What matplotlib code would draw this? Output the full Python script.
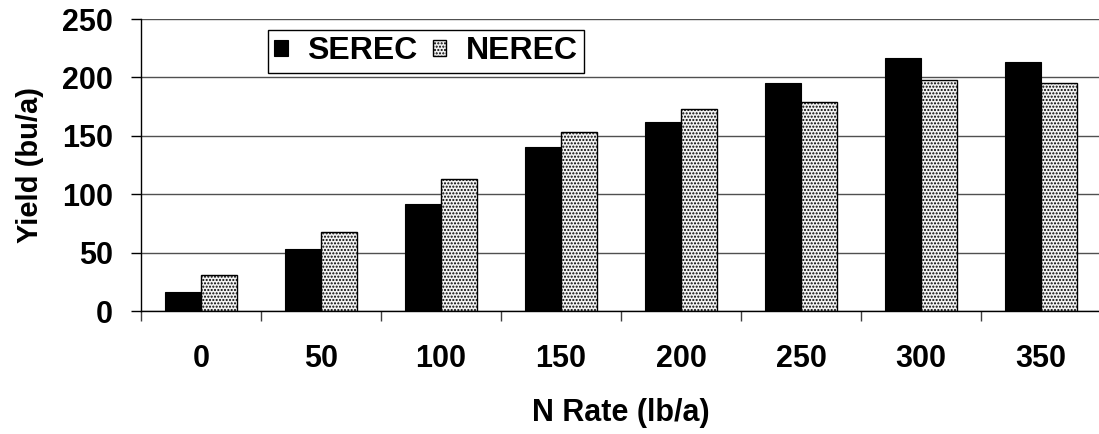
import numpy as np
import matplotlib.pyplot as plt

plt.rcParams['font.family'] = ['Liberation Sans', 'DejaVu Sans']
plt.rcParams['font.weight'] = 'bold'
plt.rcParams['hatch.linewidth'] = 1.0

# données
n_rate = ['0', '50', '100', '150', '200', '250', '300', '350']
serec = [16, 53, 92, 140, 162, 195, 217, 213]
nerec = [31, 68, 113, 153, 173, 179, 198, 195]

x = np.arange(len(n_rate))
w = 0.3

fig = plt.figure(figsize=(10.99, 4.34), dpi=100)
ax = fig.add_axes([0.1283, 0.2834, 0.8735, 0.6728])

ax.set_axisbelow(True)
ax.yaxis.grid(True, color='#505050', linewidth=1.0)

ax.bar(x - w / 2, serec, w, color='black', edgecolor='black', linewidth=0.8, label='SEREC')
ax.bar(x + w / 2, nerec, w, color='#f2f2f2', edgecolor='black', hatch='.....',
       linewidth=1.0, label='NEREC')

ax.set_xlim(-0.5, len(n_rate) - 0.5)
ax.set_ylim(0, 250)
ax.set_yticks(np.arange(0, 251, 50))
ax.set_xticks(x)
ax.set_xticklabels(n_rate)
ax.set_xticks(np.arange(-0.5, len(n_rate), 1), minor=True)

ax.tick_params(axis='x', which='major', length=0, pad=24, labelsize=22)
ax.tick_params(axis='x', which='minor', length=7, width=1, color='#404040', direction='out')
ax.tick_params(axis='y', length=7, width=1, direction='out', labelsize=22, pad=13)

for s in ['top', 'right']:
    ax.spines[s].set_visible(False)
ax.spines['left'].set_linewidth(1.0)
ax.spines['bottom'].set_linewidth(1.0)

ax.set_xlabel('N Rate (lb/a)', fontsize=22, fontweight='bold', labelpad=17)
ax.set_ylabel('Yield (bu/a)', fontsize=21, fontweight='bold', labelpad=13)

leg = ax.legend(loc='upper left', bbox_to_anchor=(0.132, 0.962), ncol=2, fontsize=23,
                frameon=True, fancybox=False, edgecolor='black', framealpha=1,
                handlelength=0.42, handleheight=0.42, handletextpad=0.6,
                columnspacing=0.5, borderpad=0.2, borderaxespad=0)
leg.get_frame().set_linewidth(1.0)

fig.savefig('out.png', dpi=100)
